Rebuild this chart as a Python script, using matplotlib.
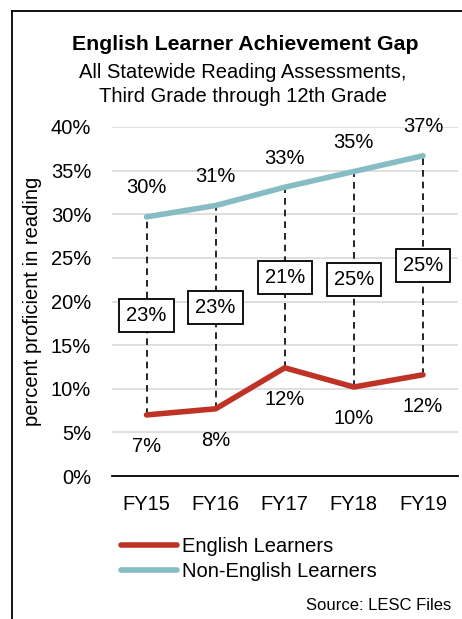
import matplotlib.pyplot as plt
import numpy as np
from matplotlib.lines import Line2D

plt.rcParams['font.family'] = ['Liberation Sans', 'DejaVu Sans']

years = ['FY15', 'FY16', 'FY17', 'FY18', 'FY19']
non_el = [29.7, 31.0, 33.1, 34.9, 36.7]
el = [7.0, 7.7, 12.4, 10.2, 11.6]
non_el_labels = ['30%', '31%', '33%', '35%', '37%']
el_labels = ['7%', '8%', '12%', '10%', '12%']
gap_labels = ['23%', '23%', '21%', '25%', '25%']

RED = '#BF3327'
BLUE = '#86BCC3'
FS = 14.5

fig = plt.figure(figsize=(4.62, 6.19), dpi=100)
ax = fig.add_axes([112 / 462, 143 / 619, 345.5 / 462, 349 / 619])

x = np.arange(len(years))
for xi, a, b in zip(x, el, non_el):
    ax.plot([xi, xi], [a, b], color='black', linestyle=(0, (4, 3)), linewidth=1.2, zorder=2)

ax.plot(x, non_el, color=BLUE, linewidth=4, solid_capstyle='round', zorder=3)
ax.plot(x, el, color=RED, linewidth=4, solid_capstyle='round', zorder=3)

for xi, v, lab in zip(x, non_el, non_el_labels):
    ax.annotate(lab, xy=(xi, v), xytext=(0, 21), textcoords='offset points',
                ha='center', va='center', fontsize=FS)
for xi, v, lab in zip(x, el, el_labels):
    ax.annotate(lab, xy=(xi, v), xytext=(0, -23), textcoords='offset points',
                ha='center', va='center', fontsize=FS)
for xi, a, b, lab in zip(x, el, non_el, gap_labels):
    ax.text(xi, (a + b) / 2, lab, ha='center', va='center', fontsize=FS, zorder=4,
            bbox=dict(boxstyle='square,pad=0.35', facecolor='white', edgecolor='black',
                      linewidth=1.3))

ax.set_xlim(-0.5, len(years) - 0.5)
ax.set_ylim(0, 40)
ax.set_yticks(range(0, 41, 5))
ax.set_yticklabels([f'{v}%' for v in range(0, 41, 5)])
ax.set_xticks(x)
ax.set_xticklabels(years)
ax.tick_params(axis='both', length=0, labelsize=FS)
ax.tick_params(axis='y', pad=15)
ax.tick_params(axis='x', pad=14)
ax.grid(axis='y', color='#D9D9D9', linewidth=1.2)
ax.set_axisbelow(True)
for s in ['top', 'right', 'left']:
    ax.spines[s].set_visible(False)
ax.spines['bottom'].set_linewidth(1.3)
ax.spines['bottom'].set_zorder(5)
ax.set_ylabel('percent proficient in reading', fontsize=FS, labelpad=6)

handles = [Line2D([], [], color=RED, linewidth=4, solid_capstyle='round'),
           Line2D([], [], color=BLUE, linewidth=4, solid_capstyle='round')]
fig.legend(handles, ['English Learners', 'Non-English Learners'],
           loc='upper left', bbox_to_anchor=(103 / 462, 1 - 519 / 619),
           frameon=False, fontsize=FS, handlelength=2.75, handletextpad=0.25,
           labelspacing=0.3)

fig.text(245 / 462, 1 - 45 / 619, 'English Learner Achievement Gap', ha='center',
         va='center', fontsize=15.3, fontweight='bold')
fig.text(243 / 462, 1 - 72 / 619, 'All Statewide Reading Assessments,', ha='center',
         va='center', fontsize=FS)
fig.text(243 / 462, 1 - 96 / 619, 'Third Grade through 12th Grade', ha='center',
         va='center', fontsize=FS)
fig.text(451 / 462, 1 - 606 / 619, 'Source: LESC Files', ha='right', va='center',
         fontsize=12)

# frame: left and top edges only
fig.add_artist(Line2D([12 / 462, 12 / 462], [0, 1 - 11 / 619], color='black',
                      linewidth=1.3, transform=fig.transFigure))
fig.add_artist(Line2D([12 / 462, 1], [1 - 11 / 619, 1 - 11 / 619], color='black',
                      linewidth=1.3, transform=fig.transFigure))

fig.savefig('out.png', dpi=100)
